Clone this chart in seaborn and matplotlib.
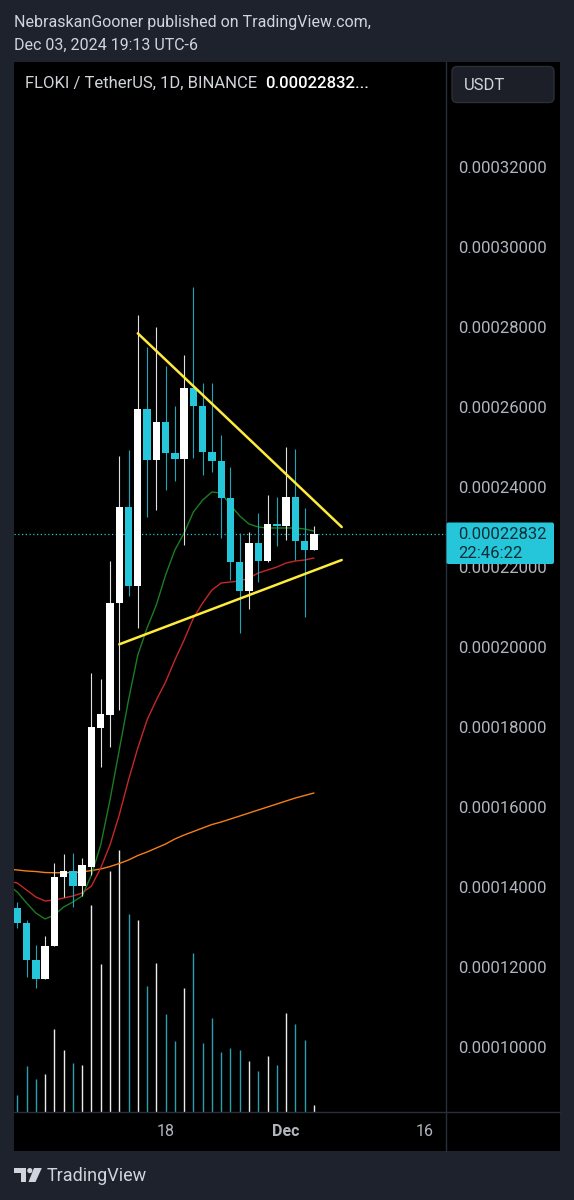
import numpy as np
import pandas as pd
import matplotlib
matplotlib.use("Agg")
import matplotlib.pyplot as plt
from matplotlib.patches import Rectangle, FancyBboxPatch, Polygon, Circle
from matplotlib.lines import Line2D
from matplotlib.transforms import IdentityTransform
import seaborn as sns

# FLOKI / USDT daily candles, Nov 2 - Dec 4 2024
dates = pd.date_range("2024-11-02", "2024-12-04", freq="D")
opens = [0.00013475, 0.00013100, 0.00012175, 0.00011692, 0.00012525, 0.00014258, 0.00014400,
         0.00014025, 0.00014500, 0.00017983, 0.00018300, 0.00021092, 0.00023492, 0.00021525,
         0.00025958, 0.00024675, 0.00025625, 0.00024858, 0.00024708, 0.00026467, 0.00026033,
         0.00024883, 0.00024650, 0.00023717, 0.00022133, 0.00021400, 0.00022592, 0.00022150,
         0.00023075, 0.00023033, 0.00023742, 0.00022650, 0.00022425]
highs = [0.00013625, 0.00013175, 0.00012542, 0.00012775, 0.00014592, 0.00014817, 0.00014842,
         0.00014717, 0.00019342, 0.00019192, 0.00022150, 0.00024775, 0.00024925, 0.00028308,
         0.00027492, 0.00028008, 0.00027025, 0.00026025, 0.00027292, 0.00029008, 0.00026592,
         0.00026608, 0.00025292, 0.00024492, 0.00022842, 0.00022867, 0.00023342, 0.00023800,
         0.00023742, 0.00024992, 0.00024942, 0.00023467, 0.00023033]
lows = [0.00012975, 0.00011758, 0.00011467, 0.00011692, 0.00012525, 0.00013758, 0.00013492,
        0.00013775, 0.00014300, 0.00017008, 0.00017508, 0.00018425, 0.00021275, 0.00020475,
        0.00023258, 0.00023425, 0.00023925, 0.00024158, 0.00022550, 0.00024717, 0.00024300,
        0.00024383, 0.00022717, 0.00021675, 0.00020350, 0.00020942, 0.00021633, 0.00022125,
        0.00022533, 0.00022675, 0.00022175, 0.00020742, 0.00022425]
closes = [0.00013100, 0.00012175, 0.00011692, 0.00012525, 0.00014258, 0.00014400, 0.00014025,
          0.00014542, 0.00017992, 0.00018317, 0.00021092, 0.00023492, 0.00021525, 0.00025958,
          0.00024675, 0.00025625, 0.00024858, 0.00024708, 0.00026467, 0.00026033, 0.00024883,
          0.00024650, 0.00023717, 0.00022133, 0.00021400, 0.00022592, 0.00022150, 0.00023075,
          0.00023025, 0.00023742, 0.00022650, 0.00022425, 0.00022832]
# volume, billions FLOKI
volumes = [17, 46, 33, 38, 83, 62, 49, 47, 207, 148, 241, 262, 198, 192, 126, 149, 98,
           71, 124, 159, 69, 94, 60, 64, 62, 51, 41, 56, 47, 99, 88, 72, 7]

# moving averages, Nov 1 - Dec 4
ma_dates = pd.date_range("2024-11-01", "2024-12-04", freq="D")
ma_fast = [0.00014050, 0.00013875, 0.00013600, 0.00013350, 0.00013200, 0.00013300, 0.00013500,
           0.00013625, 0.00013775, 0.00014300, 0.00015050, 0.00016175, 0.00017425, 0.00018675,
           0.00019800, 0.00020475, 0.00021050, 0.00021800, 0.00022425, 0.00022850, 0.00023375,
           0.00023675, 0.00023875, 0.00023850, 0.00023550, 0.00023275, 0.00023075, 0.00023000,
           0.00022975, 0.00022975, 0.00022975, 0.00022975, 0.00022950, 0.00022900]
ma_mid = [0.00014150, 0.00014100, 0.00013925, 0.00013750, 0.00013650, 0.00013675, 0.00013725,
          0.00013775, 0.00013850, 0.00014025, 0.00014475, 0.00015050, 0.00015800, 0.00016675,
          0.00017475, 0.00018175, 0.00018675, 0.00019125, 0.00019675, 0.00020175, 0.00020725,
          0.00021100, 0.00021425, 0.00021600, 0.00021625, 0.00021650, 0.00021725, 0.00021850,
          0.00021925, 0.00022000, 0.00022100, 0.00022150, 0.00022175, 0.00022225]
ma_slow = [0.00014450, 0.00014425, 0.00014400, 0.00014387, 0.00014362, 0.00014357, 0.00014357,
           0.00014362, 0.00014375, 0.00014412, 0.00014450, 0.00014512, 0.00014587, 0.00014675,
           0.00014787, 0.00014875, 0.00014975, 0.00015075, 0.00015200, 0.00015300, 0.00015387,
           0.00015475, 0.00015562, 0.00015625, 0.00015700, 0.00015775, 0.00015850, 0.00015925,
           0.00016000, 0.00016075, 0.00016150, 0.00016225, 0.00016287, 0.00016350]

# hand drawn triangle
upper_line_dates = ["2024-11-15", "2024-12-07"]
upper_line_prices = [0.00027842, 0.00023000]
lower_line_dates = ["2024-11-13", "2024-12-07"]
lower_line_prices = [0.00020067, 0.00022175]

price_ticks = [0.00010, 0.00012, 0.00014, 0.00016, 0.00018, 0.00020,
               0.00022, 0.00024, 0.00026, 0.00028, 0.00030, 0.00032]
date_ticks = ["2024-11-18", "2024-12-01", "2024-12-16"]
date_labels = ["18", "Dec", "16"]

UP = "#ffffff"
DOWN = "#26c6da"
BG = "#1e222d"
TXT = "#d1d4dc"
AXTXT = "#b2b5be"
LINE = "#2a2e39"

sns.set_theme(style="dark")
plt.rcParams['font.family'] = ['Roboto', 'DejaVu Sans']

W, H = 574, 1200
fig = plt.figure(figsize=(W / 100, H / 100), dpi=100)
fig.patch.set_facecolor(BG)


def fx(x):
    return x / W


def fy(y):
    return 1 - y / H


def px(x, y):
    return (x, H - y)


# black chart panel
fig.add_artist(Rectangle(px(14, 1151), 546, 1089, transform=IdentityTransform(),
                         facecolor="black", edgecolor="none", zorder=-5))

axv = fig.add_axes([fx(14), fy(1112), (446 - 14) / W, (1112 - 62) / H])
ax = axv.twinx()
axv.set_zorder(1)
ax.set_zorder(2)
ax.patch.set_visible(False)
axv.set_facecolor("black")

o = np.array(opens)
c = np.array(closes)
up = c >= o

# volume
vol_colors = np.where(up, "#ececec", "#2a9fb2")
axv.vlines(dates, 0, volumes, colors=vol_colors, linewidth=1.0)
axv.set_ylim(0, 1050)
axv.set_yticks([])

# candles
wick_colors = np.where(up, "#e0e0e0", "#1fa5b8")
ax.vlines(dates, lows, highs, colors=wick_colors, linewidth=0.8, zorder=3)
body_h = np.maximum(np.abs(c - o), 0.0000005)
ax.bar(dates, body_h, bottom=np.minimum(o, c), width=0.8,
       color=np.where(up, UP, DOWN), linewidth=0, zorder=4)

# moving averages
sns.lineplot(x=ma_dates, y=ma_slow, ax=ax, color="#f57f17", linewidth=1.0, zorder=2)
sns.lineplot(x=ma_dates, y=ma_mid, ax=ax, color="#c62828", linewidth=1.0, zorder=2)
sns.lineplot(x=ma_dates, y=ma_fast, ax=ax, color="#1b7d22", linewidth=1.0, zorder=2)

# triangle
ax.plot(pd.to_datetime(upper_line_dates), upper_line_prices, color="#ffeb3b", linewidth=1.8, zorder=5)
ax.plot(pd.to_datetime(lower_line_dates), lower_line_prices, color="#ffeb3b", linewidth=1.8, zorder=5)

# last price
ax.axhline(closes[-1], color=DOWN, linestyle=(0, (1, 2)), linewidth=0.9, zorder=1)

ax.set_xlim(dates[0] - pd.Timedelta(hours=8.5), dates[0] + pd.Timedelta(hours=46.25 * 24))
ax.set_ylim(0.00008375, 0.00034625)
ax.set_xlabel("")
ax.set_ylabel("")
ax.set_yticks(price_ticks)
ax.set_yticklabels([f"{p:.8f}" for p in price_ticks])
ax.yaxis.tick_right()
ax.tick_params(axis="y", length=0, pad=8.6, labelsize=12, labelcolor=AXTXT)
axv.set_xticks(pd.to_datetime(date_ticks))
axv.set_xticklabels(date_labels)
axv.tick_params(axis="x", length=0, pad=9, labelsize=11.5, labelcolor=AXTXT)
axv.get_xticklabels()[1].set_fontweight("bold")
ax.tick_params(axis="x", length=0, labelbottom=False)
for a in (ax, axv):
    a.grid(False)
    for s in a.spines.values():
        s.set_visible(False)

# panel dividers
fig.add_artist(Line2D([446, 446], [H - 62, H - 1151], transform=IdentityTransform(), color=LINE, linewidth=1))
fig.add_artist(Line2D([14, 560], [H - 1112, H - 1112], transform=IdentityTransform(), color=LINE, linewidth=1))

# header
fig.text(fx(14), fy(22), "NebraskanGooner published on TradingView.com,", color=TXT, fontsize=11.5, va="center")
fig.text(fx(14), fy(45), "Dec 03, 2024 19:13 UTC-6", color=TXT, fontsize=11.5, va="center")
fig.text(fx(25), fy(83), "FLOKI / TetherUS, 1D, BINANCE", color=TXT, fontsize=12, va="center", zorder=6)
fig.text(fx(265), fy(83), "0.00022832...", color="white", fontsize=12, fontweight="medium", va="center", zorder=6)

# currency button
fig.add_artist(FancyBboxPatch(px(452, 102.5), 102, 36, boxstyle="round,pad=0,rounding_size=5",
                              transform=IdentityTransform(), facecolor="#1c1f27", edgecolor=LINE,
                              linewidth=1, zorder=5))
fig.text(fx(464), fy(85), "USDT", color=TXT, fontsize=12, va="center", zorder=6)

# last price tag
fig.add_artist(FancyBboxPatch(px(446.5, 564), 107.5, 41.5, boxstyle="round,pad=0,rounding_size=2",
                              transform=IdentityTransform(), facecolor=DOWN, edgecolor="none", zorder=5))
fig.text(fx(458), fy(534.5), f"{closes[-1]:.8f}", color="#0b2f37", fontsize=12, va="center", zorder=6)
fig.text(fx(458), fy(553.5), "22:46:22", color="#0b2f37", fontsize=12, va="center", zorder=6)

# footer logo
fig.add_artist(Polygon([px(14, 1168), px(26, 1168), px(26, 1182), px(20.5, 1182),
                        px(20.5, 1173), px(14, 1173)], closed=True, transform=IdentityTransform(),
                       facecolor=TXT, edgecolor="none"))
fig.add_artist(Circle(px(29.8, 1170.6), 2.6, transform=IdentityTransform(), facecolor=TXT, edgecolor="none"))
fig.add_artist(Polygon([px(34, 1168), px(41.8, 1168), px(35.5, 1182), px(28.5, 1182)], closed=True,
                       transform=IdentityTransform(), facecolor=TXT, edgecolor="none"))
fig.text(fx(47), fy(1176), "TradingView", color=TXT, fontsize=13, va="center")

fig.savefig("out.png", dpi=100, facecolor=fig.get_facecolor())
